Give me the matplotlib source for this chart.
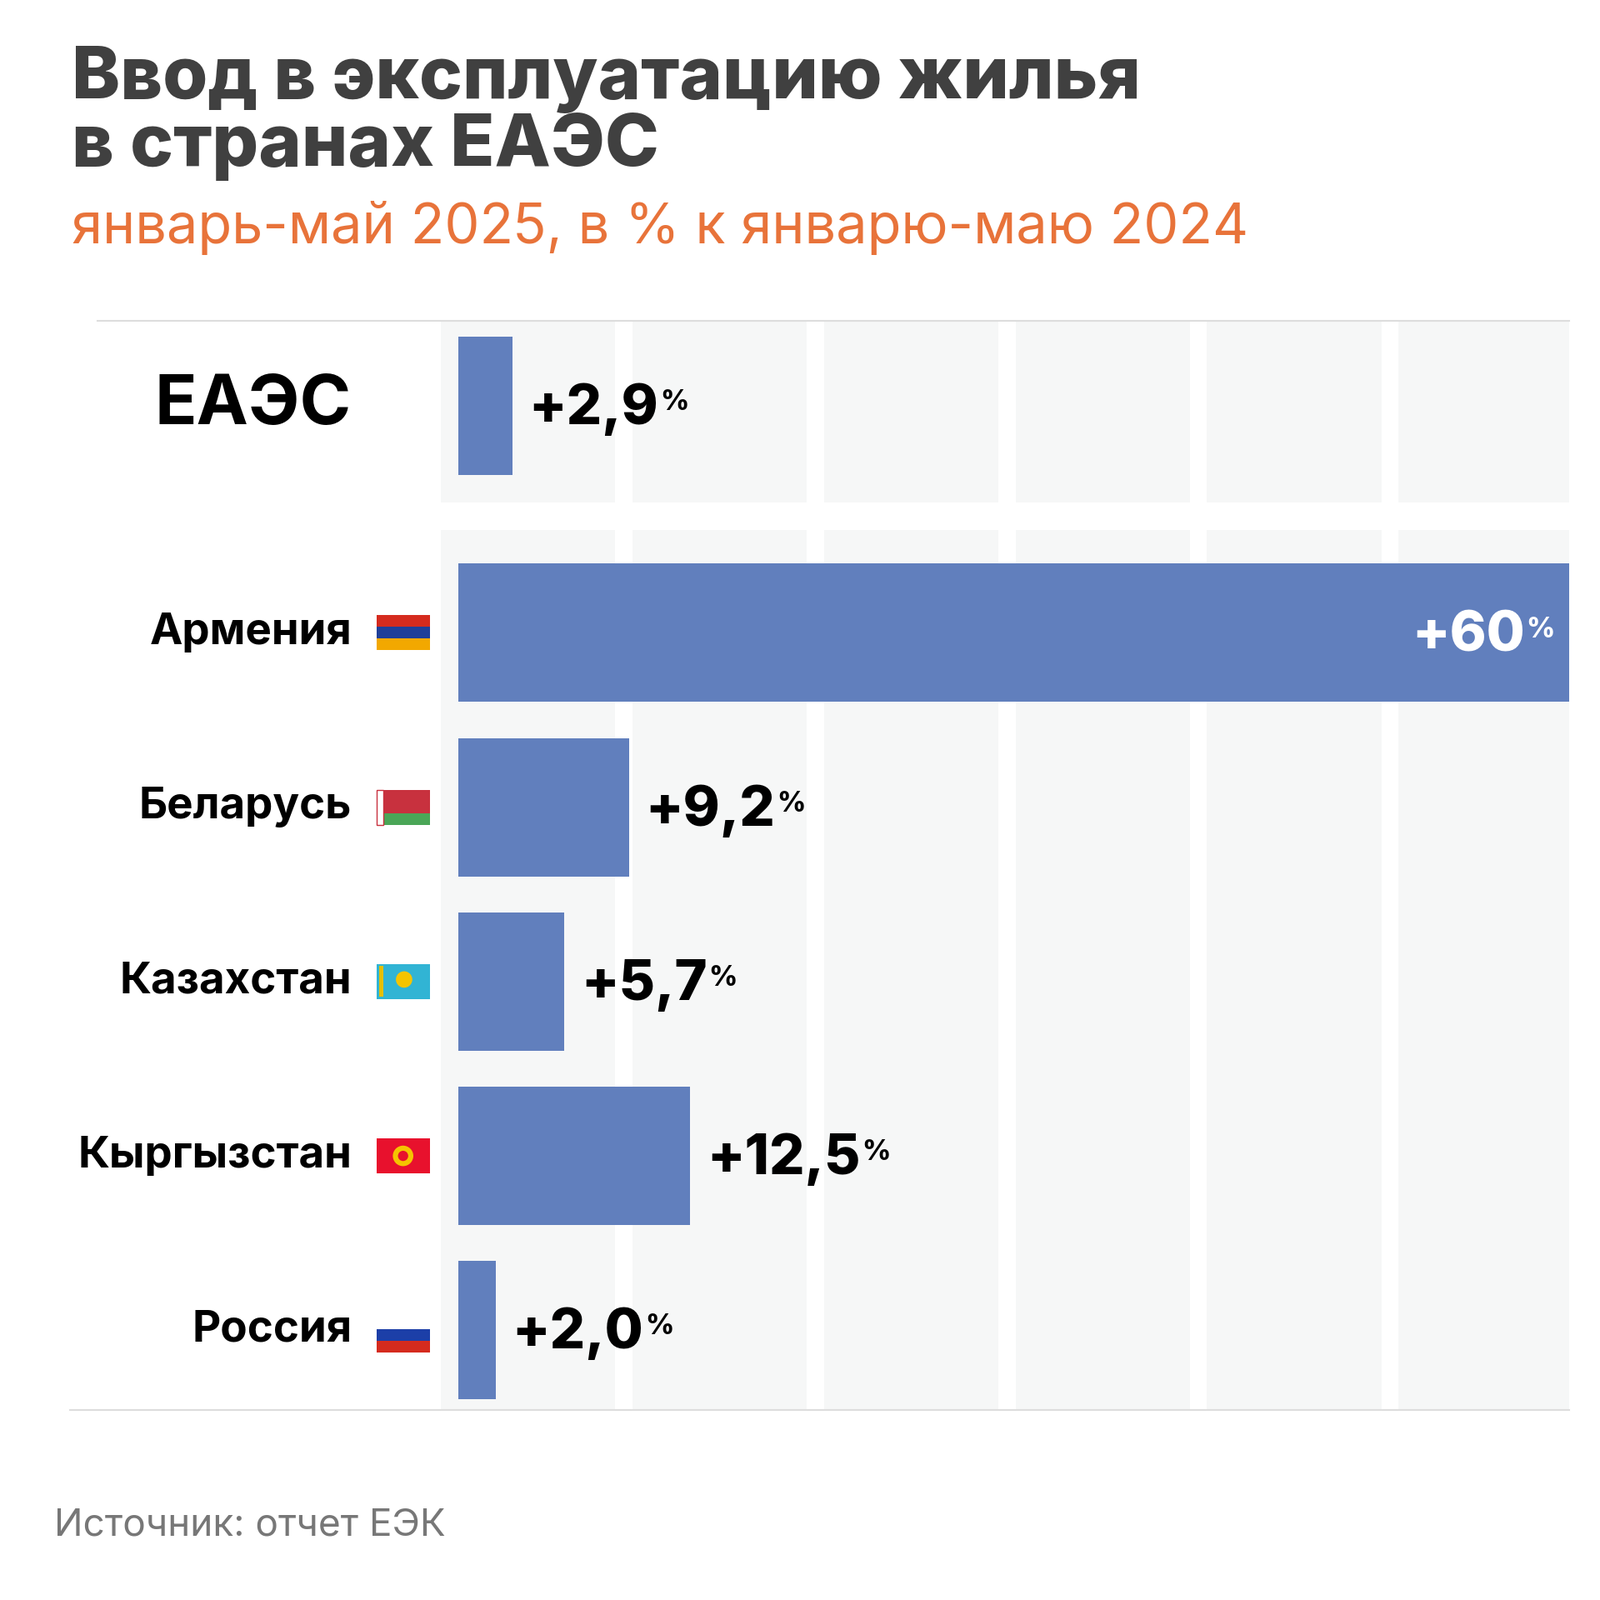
import matplotlib
matplotlib.use("Agg")
import matplotlib.pyplot as plt
from matplotlib.patches import Rectangle, Circle

categories = ["ЕАЭС", "Армения", "Беларусь", "Казахстан", "Кыргызстан", "Россия"]
values = [2.9, 60, 9.2, 5.7, 12.5, 2.0]
labels = ["+2,9", "+60", "+9,2", "+5,7", "+12,5", "+2,0"]
ypos = [0, 1.3, 2.3, 3.3, 4.3, 5.3]

S = 1560.0
def fx(x): return x / S
def fy(y): return 1 - y / S

fig = plt.figure(figsize=(19.2, 19.2), dpi=100)
fig.patch.set_facecolor("white")
FONT = "Inter"
BAR = "#617fbd"

ax = fig.add_axes([fx(430), fy(1375), fx(1530) - fx(430), (1375 - 313) / S])
px = 1083 / 60.0
x0 = -17 / px
ax.set_xlim(x0, 60)
ax.set_ylim((1375 - 396) / 170, (313 - 396) / 170)
ax.axis("off")

for k in range(6):
    xl = (430 + k * 186.7 - 447) / px
    w = 170 / px
    for (ya, yb) in [((313 - 396) / 170, (490 - 396) / 170), ((517 - 396) / 170, (1375 - 396) / 170)]:
        ax.add_patch(Rectangle((xl, ya), w, yb - ya, facecolor="#f6f7f7", edgecolor="none", zorder=0))

ax.barh(ypos, values, height=135 / 170, left=0, color=BAR, zorder=2)

fig.canvas.draw()
r = fig.canvas.get_renderer()
for i, (v, lab, y) in enumerate(zip(values, labels, ypos)):
    inside = v > 50
    col = "white" if inside else "black"
    if inside:
        t = ax.text(v - 2.4, y + 0.02, lab, ha="right", va="center", fontsize=48, fontweight="heavy",
                    family=FONT, color=col, zorder=3)
    else:
        t = ax.text(v + 0.9, y + 0.02, lab, ha="left", va="center", fontsize=48, fontweight="heavy",
                    family=FONT, color=col, zorder=3)
    fig.canvas.draw()
    bb = t.get_window_extent(r)
    fig.text(bb.x1 / fig.bbox.width + 0.001, bb.y1 / fig.bbox.height - 0.004, "%", fontsize=24,
             fontweight="heavy", family=FONT, color=col, va="top", ha="left")

centers = [396, 617, 787, 957, 1127, 1297]
for i, (c, yc) in enumerate(zip(categories, centers)):
    fs = 60 if i == 0 else 38
    fig.text(fx(343), fy(yc), c, ha="right", va="center", fontsize=fs, fontweight="bold",
             family=FONT, color="black")

fl, fw, fh = 367, 52, 34
def stripes(yc, cols, weights=None):
    n = len(cols)
    weights = weights or [1] * n
    tot = sum(weights)
    top = yc - fh / 2
    for col, w in zip(cols, weights):
        h = fh * w / tot
        fig.add_artist(Rectangle((fx(fl), fy(top + h)), fw / S, h / S, transform=fig.transFigure,
                                 facecolor=col, edgecolor="none"))
        top += h
stripes(617, ["#d52b1e", "#1f3f99", "#f2a800"])
stripes(787, ["#c8313e", "#4aa657"], [2, 1])
fig.add_artist(Rectangle((fx(fl), fy(787 + fh / 2)), 7 / S, fh / S, transform=fig.transFigure,
                         facecolor="white", edgecolor="#c8313e", lw=1))
stripes(957, ["#31b4d4"])
fig.add_artist(Circle((fx(fl + 27), fy(955)), 8 / S, transform=fig.transFigure, facecolor="#f5c400", edgecolor="none"))
fig.add_artist(Rectangle((fx(fl + 3), fy(957 + 15)), 4 / S, 30 / S, transform=fig.transFigure, facecolor="#e5c000", edgecolor="none"))
stripes(1127, ["#e8112d"])
fig.add_artist(Circle((fx(fl + 26), fy(1127)), 10 / S, transform=fig.transFigure, facecolor="#f5c400", edgecolor="none"))
fig.add_artist(Circle((fx(fl + 26), fy(1127)), 5 / S, transform=fig.transFigure, facecolor="#e8112d", edgecolor="none"))
stripes(1302, ["white", "#1c3fa8", "#d52b1e"])

fig.add_artist(plt.Line2D([fx(95), fx(1530)], [fy(313), fy(313)], color="#dddddd", lw=1.5))
fig.add_artist(plt.Line2D([fx(68), fx(1530)], [fy(1375), fy(1375)], color="#dddddd", lw=1.5))

fig.text(fx(70), fy(78), "Ввод в эксплуатацию жилья", fontsize=63, fontweight="heavy", family=FONT,
         color="#404040", va="center", ha="left")
fig.text(fx(70), fy(143), "в странах ЕАЭС", fontsize=63, fontweight="heavy", family=FONT,
         color="#404040", va="center", ha="left")
fig.text(fx(70), fy(222), "январь-май 2025, в % к январю-маю 2024", fontsize=48, family=FONT,
         color="#e8733a", va="center", ha="left")
fig.text(fx(53), fy(1487), "Источник: отчет ЕЭК", fontsize=33, family=FONT,
         color="#777777", va="center", ha="left")

fig.savefig("out.png", dpi=100, facecolor="white")
